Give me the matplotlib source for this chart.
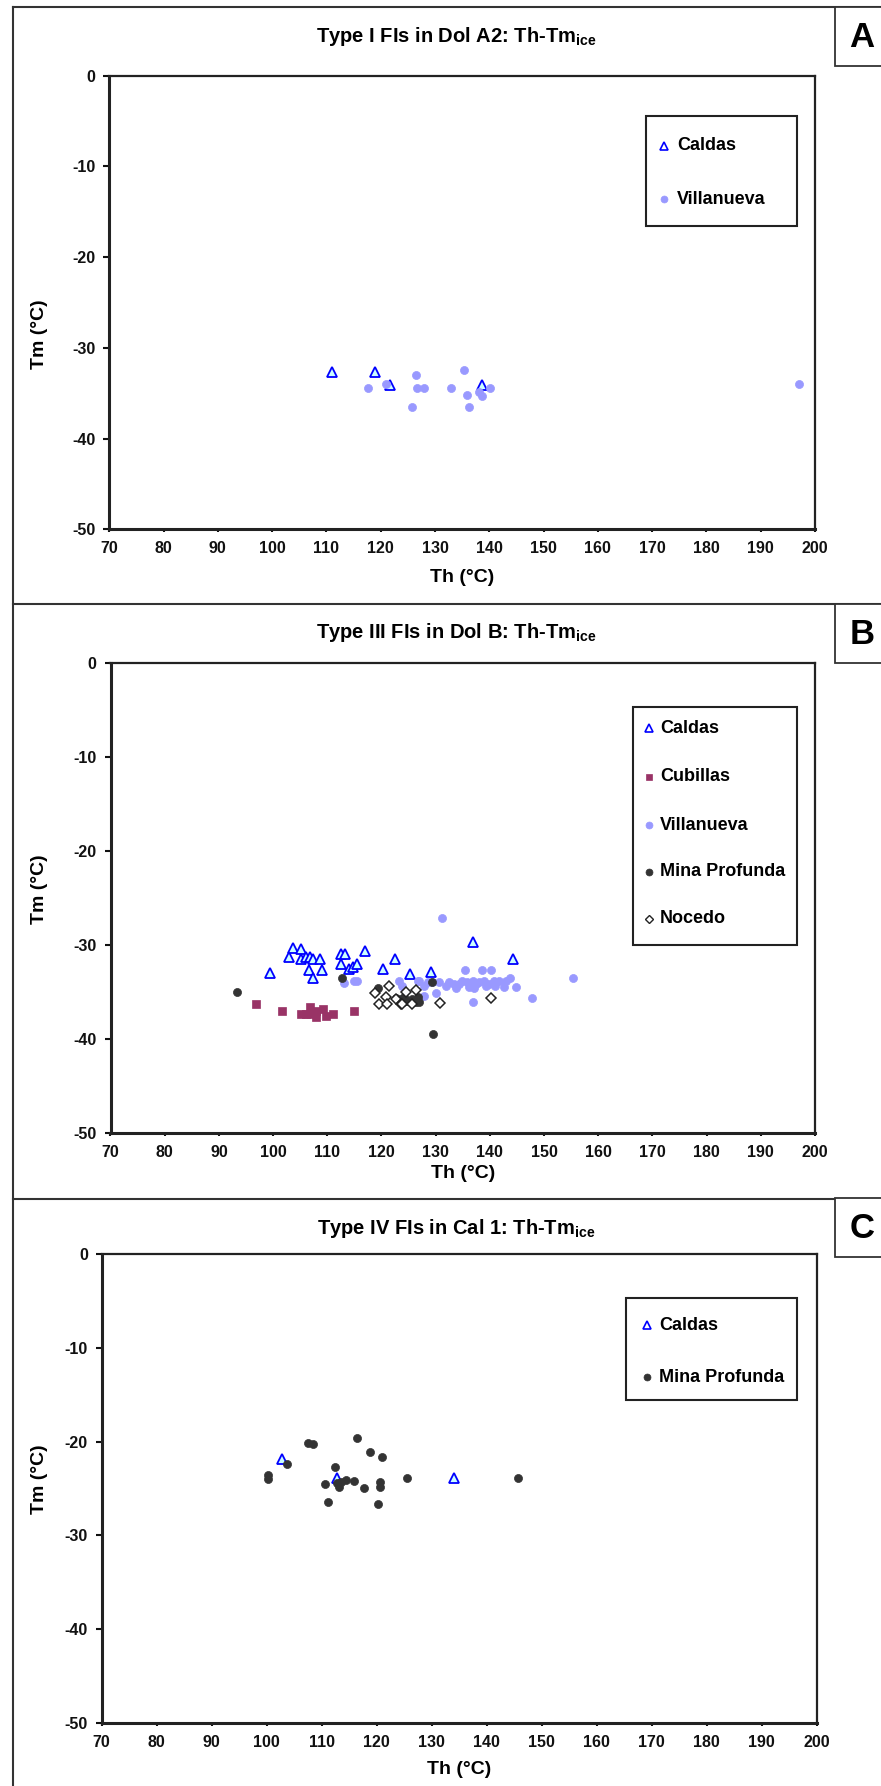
import matplotlib
matplotlib.use('Agg')
import matplotlib.pyplot as plt
from matplotlib.lines import Line2D
from matplotlib.patches import Rectangle

plt.rcParams['font.family'] = ['Liberation Sans', 'DejaVu Sans']
plt.rcParams['font.weight'] = 'bold'
plt.rcParams['axes.unicode_minus'] = False
plt.rcParams['mathtext.fontset'] = 'custom'
plt.rcParams['mathtext.rm'] = 'Liberation Sans:bold'
plt.rcParams['mathtext.default'] = 'rm'

# ---- data (Th in C, Tm in C) ----
# Panel A
a_caldas_th = [111.1, 118.9, 121.8, 138.6]
a_caldas_tm = [-32.7, -32.7, -34.1, -34.1]
a_villa_th = [117.7, 121.0, 126.5, 126.7, 127.9, 125.7, 132.9, 135.3, 135.9, 136.2, 138.1, 138.6, 140.1, 197.1]
a_villa_tm = [-34.4, -34.0, -33.0, -34.4, -34.4, -36.5, -34.4, -32.5, -35.2, -36.5, -34.9, -35.3, -34.4, -34.0]

# Panel B
b_caldas_th = [99.5, 103.0, 103.6, 105.2, 105.2, 106.0, 106.8, 107.3, 108.7, 106.7, 109.0, 107.3,
               112.6, 113.3, 112.6, 114.1, 114.7, 115.4, 117.0, 120.2, 122.5, 125.2, 129.2, 136.8, 144.2]
b_caldas_tm = [-33.0, -31.3, -30.3, -30.4, -31.5, -31.3, -31.3, -31.5, -31.5, -32.6, -32.6, -33.5,
               -30.9, -30.9, -32.0, -32.5, -32.3, -32.0, -30.6, -32.5, -31.5, -33.1, -32.9, -29.7, -31.5]
b_cubi_th = [96.9, 101.6, 105.2, 106.1, 106.8, 106.8, 107.9, 107.9, 109.3, 109.8, 111.0, 115.0]
b_cubi_tm = [-36.3, -37.0, -37.3, -37.3, -36.6, -37.3, -37.7, -37.0, -36.8, -37.5, -37.3, -37.0]
b_villa_th = [113.0, 115.0, 115.4, 123.3, 123.8, 126.8, 131.2, 126.9, 127.9, 127.9, 128.5, 129.4, 130.0,
              130.6, 131.9, 132.4, 133.4, 133.7, 134.3, 134.9, 135.5, 135.8, 136.1, 136.8, 136.9, 137.1,
              137.4, 138.0, 138.5, 138.9, 139.2, 139.8, 140.3, 140.7, 141.0, 141.7, 142.6, 142.9, 143.8,
              144.8, 147.8, 155.3]
b_villa_tm = [-34.0, -33.8, -33.8, -33.8, -34.3, -33.8, -27.1, -33.8, -34.3, -35.4, -33.9, -33.9, -35.1,
              -33.9, -34.3, -33.9, -34.1, -34.6, -34.1, -33.8, -32.7, -33.9, -34.5, -33.8, -36.1, -34.6,
              -34.1, -33.9, -32.7, -33.8, -34.3, -34.1, -32.7, -33.8, -34.3, -33.8, -34.5, -33.8, -33.5,
              -34.5, -35.6, -33.5]
b_mina_th = [93.3, 112.8, 119.3, 122.7, 123.6, 124.2, 124.8, 125.7, 126.3, 123.9, 126.0, 126.7, 126.9, 129.4, 129.6]
b_mina_tm = [-35.0, -33.5, -34.6, -35.6, -35.7, -35.5, -35.9, -35.7, -36.1, -36.1, -35.9, -35.5, -36.1, -33.9, -39.5]
b_noce_th = [118.8, 121.4, 120.8, 119.6, 121.1, 122.7, 123.6, 124.5, 125.7, 126.4, 123.8, 130.8, 140.2]
b_noce_tm = [-35.1, -34.3, -35.5, -36.3, -36.3, -35.7, -36.3, -35.0, -36.3, -34.8, -36.3, -36.2, -35.6]

# Panel C
c_caldas_th = [102.7, 112.7, 134.1]
c_caldas_tm = [-21.9, -23.9, -23.9]
c_mina_th = [100.3, 100.3, 103.7, 107.6, 108.5, 116.4, 118.8, 120.9, 112.4, 110.6, 112.8, 113.2, 113.6,
             114.5, 115.9, 117.7, 120.6, 120.6, 125.6, 145.7, 111.1, 120.3]
c_mina_tm = [-23.6, -24.0, -22.4, -20.1, -20.3, -19.6, -21.1, -21.6, -22.7, -24.5, -24.4, -24.8, -24.3,
             -24.1, -24.2, -24.9, -24.3, -24.8, -23.9, -23.9, -26.4, -26.6]

x_ticks = list(range(70, 201, 10))
y_ticks = list(range(-50, 1, 10))

W, H = 881, 1786
fig = plt.figure(figsize=(W / 100, H / 100), dpi=100)

def fx(x):
    return x / W

def fy(y):
    return 1 - y / H

# series styles
styles = {
    'Caldas': dict(marker='^', mfc='#CCFFFF', mec='#0000FF', mew=1.3, ms=6.5),
    'Cubillas': dict(marker='s', mfc='#993366', mec='#993366', mew=0.5, ms=5.5),
    'Villanueva': dict(marker='o', mfc='#9999FF', mec='#9999FF', mew=0.5, ms=5.8),
    'Mina Profunda': dict(marker='o', mfc='#333333', mec='#333333', mew=0.5, ms=5.8),
    'Nocedo': dict(marker='D', mfc='white', mec='#222222', mew=1.1, ms=5),
}
leg_styles = {
    'Caldas': dict(marker='^', mfc='white', mec='#0000FF', mew=1.2, ms=5.5),
    'Cubillas': dict(marker='s', mfc='#993366', mec='#993366', mew=0.5, ms=5),
    'Villanueva': dict(marker='o', mfc='#9999FF', mec='#9999FF', mew=0.5, ms=5),
    'Mina Profunda': dict(marker='o', mfc='#333333', mec='#333333', mew=0.5, ms=5),
    'Nocedo': dict(marker='D', mfc='white', mec='#222222', mew=1.0, ms=4.5),
}

def make_panel(box, title, title_y, xlabel_y, ylabel_y, series, leg_box, leg_rows, letter, frame_top, letter_bottom):
    left, right, top, bottom = box
    ax = fig.add_axes([fx(left), fy(bottom), (right - left) / W, (bottom - top) / H])
    for name, th, tm in series:
        ax.plot(th, tm, linestyle='none', zorder=3, clip_on=False, **styles[name])
    ax.set_xlim(70, 200)
    ax.set_ylim(-50, 0)
    ax.set_xticks(x_ticks)
    ax.set_yticks(y_ticks)
    for s in ['left', 'bottom']:
        ax.spines[s].set_linewidth(2.2)
        ax.spines[s].set_color('#222222')
    for s in ['top', 'right']:
        ax.spines[s].set_linewidth(1.6)
        ax.spines[s].set_color('#222222')
    ax.tick_params(axis='y', direction='out', length=4, width=1.5, pad=6, labelsize=11.5, colors='#111111')
    ax.tick_params(axis='x', direction='out', length=2.5, width=1.5, pad=6, labelsize=11.5, colors='#111111')
    for lab in ax.get_xticklabels() + ax.get_yticklabels():
        lab.set_fontweight('bold')
    fig.text(fx(456), fy(title_y), title, ha='center', va='center', fontsize=14.5, fontweight='bold')
    fig.text(fx((left + right) / 2), fy(xlabel_y), 'Th (\u00b0C)', ha='center', va='center', fontsize=14, fontweight='bold')
    fig.text(fx(40), fy(ylabel_y), 'Tm (\u00b0C)', ha='center', va='center', rotation=90,
             fontsize=14, fontweight='bold')

    # legend box
    lx0, ly0, lx1, ly1, mx, tx = leg_box
    fig.add_artist(Rectangle((fx(lx0), fy(ly1)), (lx1 - lx0) / W, (ly1 - ly0) / H, transform=fig.transFigure,
                             facecolor='white', edgecolor='#222222', linewidth=1.5, zorder=5))
    for name, ly in leg_rows:
        fig.add_artist(Line2D([fx(mx)], [fy(ly)], linestyle='none', transform=fig.transFigure, zorder=6,
                              **leg_styles[name]))
        fig.text(fx(tx), fy(ly), name, ha='left', va='center', fontsize=13, fontweight='bold', zorder=7)

    # letter box
    fig.add_artist(Rectangle((fx(835), fy(letter_bottom)), (60) / W, (letter_bottom - frame_top) / H,
                             transform=fig.transFigure, facecolor='white', edgecolor='#333333',
                             linewidth=1.3, zorder=5))
    fig.text(fx(862), fy((frame_top + letter_bottom) / 2 + 1), letter, ha='center', va='center',
             fontsize=25, fontweight='bold', zorder=6)
    return ax

make_panel((109.3, 815, 75.5, 529.3), 'Type I FIs in Dol A2: Th-Tm$_{ice}$', 36, 578, 334,
           [('Caldas', a_caldas_th, a_caldas_tm), ('Villanueva', a_villa_th, a_villa_tm)],
           (646, 115.7, 797, 226, 664, 677), [('Caldas', 146), ('Villanueva', 199)], 'A', 7, 66)

make_panel((110.5, 815, 663.3, 1133), 'Type III FIs in Dol B: Th-Tm$_{ice}$', 632.5, 1174, 889,
           [('Caldas', b_caldas_th, b_caldas_tm), ('Cubillas', b_cubi_th, b_cubi_tm),
            ('Villanueva', b_villa_th, b_villa_tm), ('Mina Profunda', b_mina_th, b_mina_tm),
            ('Nocedo', b_noce_th, b_noce_tm)],
           (632.7, 706.7, 796.7, 945, 649, 660),
           [('Caldas', 728.3), ('Cubillas', 776.7), ('Villanueva', 825), ('Mina Profunda', 872), ('Nocedo', 919)],
           'B', 603.5, 663)

make_panel((101.7, 816.7, 1254, 1723), 'Type IV FIs in Cal 1: Th-Tm$_{ice}$', 1228.6, 1769, 1479,
           [('Caldas', c_caldas_th, c_caldas_tm), ('Mina Profunda', c_mina_th, c_mina_tm)],
           (626, 1297.7, 797.3, 1400, 647, 659), [('Caldas', 1325), ('Mina Profunda', 1377)], 'C', 1198.5, 1256.7)

# panel frame lines
frame_kw = dict(transform=fig.transFigure, color='#333333', linewidth=1.5, zorder=4)
fig.add_artist(Line2D([fx(13), fx(13)], [fy(7), fy(H + 5)], **frame_kw))
for yy in [7, 603.5, 1198.5]:
    fig.add_artist(Line2D([fx(13), fx(W + 5)], [fy(yy), fy(yy)], **frame_kw))

fig.savefig('out.png', dpi=100)
